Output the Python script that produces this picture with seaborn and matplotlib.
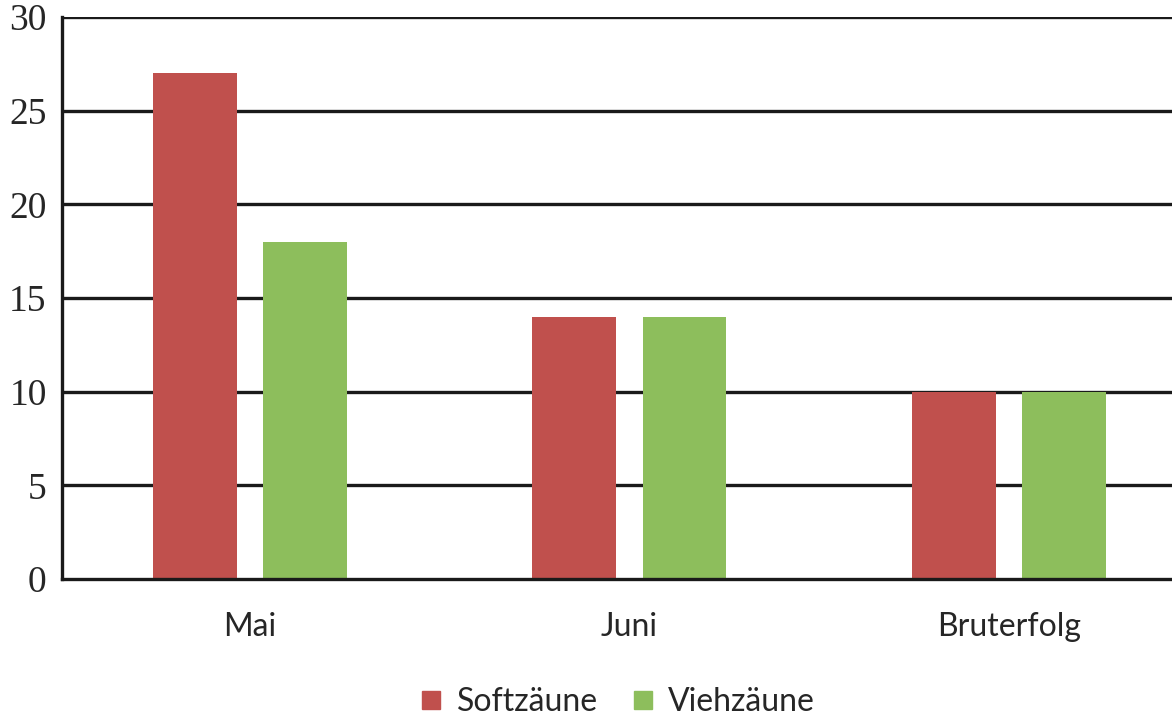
import pandas as pd
import matplotlib.pyplot as plt
import seaborn as sns

categories = ["Mai", "Juni", "Bruterfolg"]
soft = [27, 14, 10]
vieh = [18, 14, 10]
series = ["Softzäune", "Viehzäune"]
colors = ["#C0504D", "#8DBE5C"]

df = pd.DataFrame({
    "cat": categories * 2,
    "val": soft + vieh,
    "series": [series[0]] * 3 + [series[1]] * 3,
})

sns.set_style("white")
fig = plt.figure(figsize=(11.72, 7.17), dpi=100)
ax = fig.add_axes([0.0529, 0.1925, 0.9471, 0.7835])

sns.barplot(data=df, x="cat", y="val", hue="series", palette=colors,
            width=0.58, gap=0.24, saturation=1, ax=ax, legend=False,
            linewidth=0, zorder=3)

ax.set_xlim(-0.495, 2.43)
ax.set_ylim(0, 30)
ax.set_yticks(range(0, 31, 5))
for y in range(5, 31, 5):
    ax.axhline(y, color="#1a1a1a", lw=2.4, zorder=1)
ax.set_xlabel("")
ax.set_ylabel("")
for s in ["top", "right"]:
    ax.spines[s].set_visible(False)
for s in ["left", "bottom"]:
    ax.spines[s].set_color("#1a1a1a")
    ax.spines[s].set_linewidth(2.4)
    ax.spines[s].set_zorder(4)
ax.tick_params(axis="y", length=0, pad=11, labelsize=27)
ax.tick_params(axis="x", length=0, pad=24, labelsize=23)
for t in ax.get_yticklabels():
    t.set_fontfamily("Liberation Serif")
for t in ax.get_xticklabels():
    t.set_fontfamily("Lato")

handles = [plt.Line2D([], [], marker="s", ls="", color=c, markersize=13) for c in colors]
fig.legend(handles, series, loc="lower center", bbox_to_anchor=(0.525, -0.04),
           ncol=2, frameon=False, prop={"family": "Lato", "size": 23},
           handletextpad=0.3, columnspacing=0.9, handlelength=1.0)

fig.savefig("out.png", dpi=100)
